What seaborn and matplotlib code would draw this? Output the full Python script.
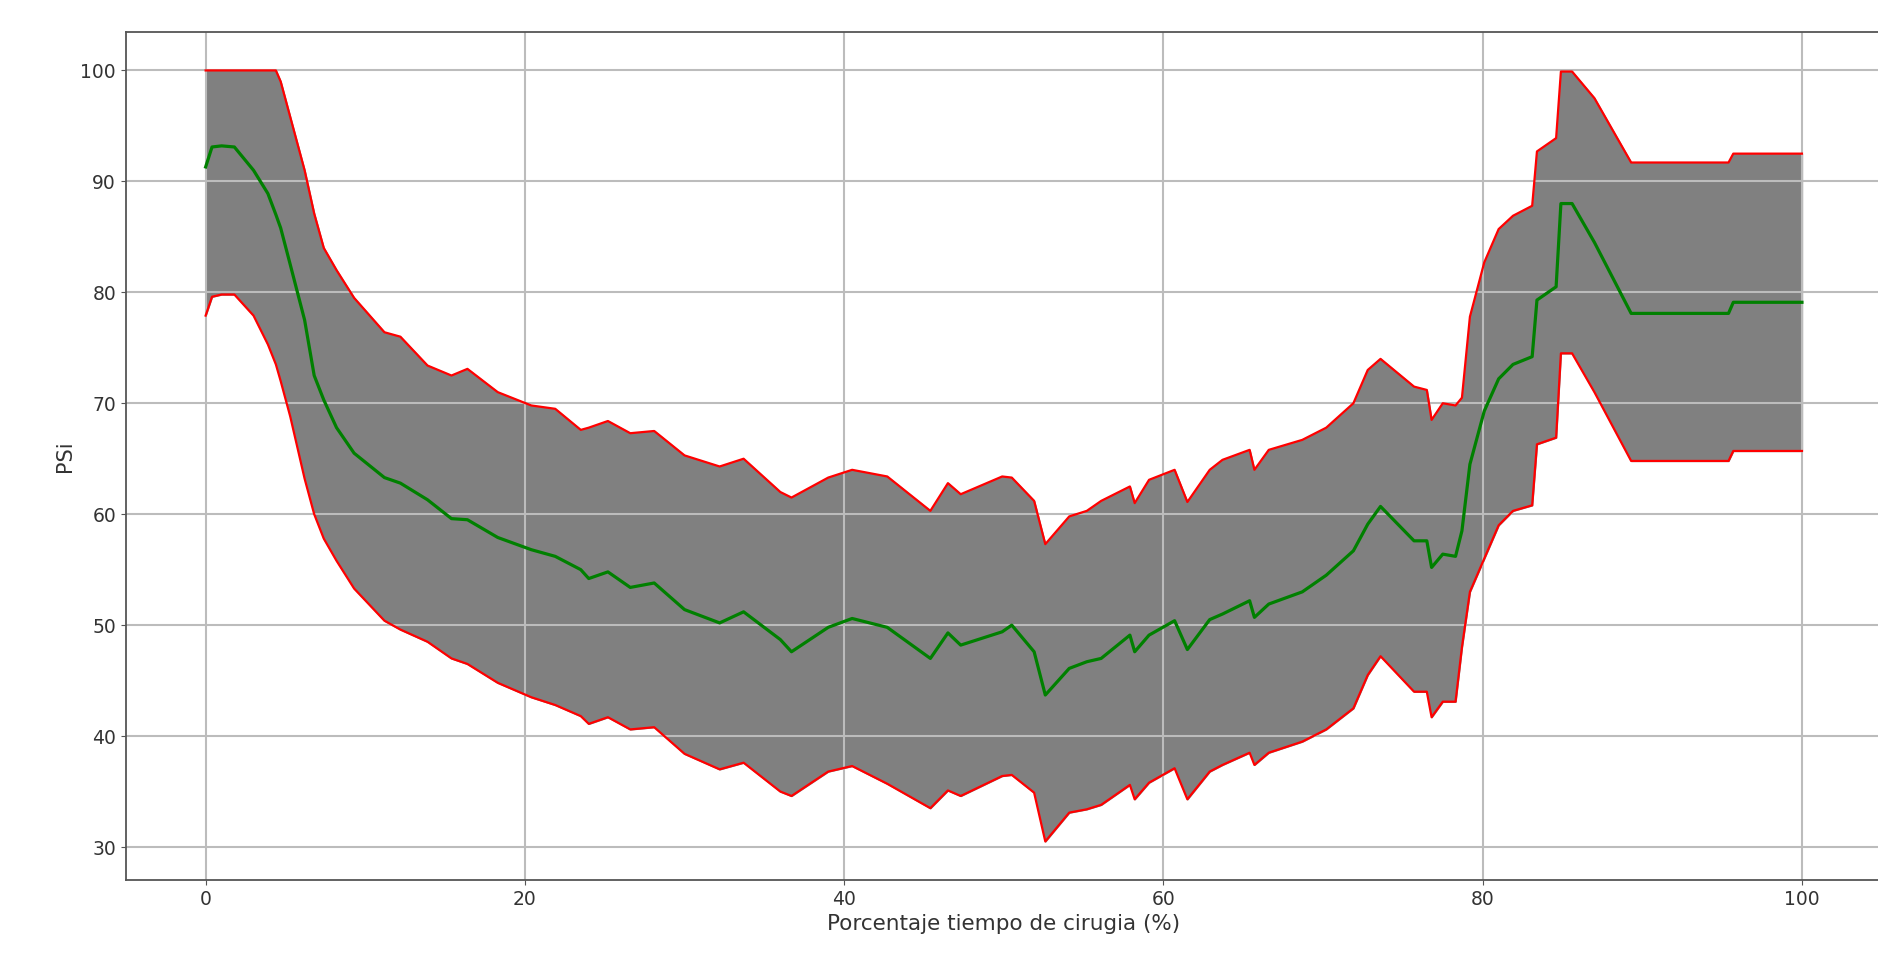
import pandas as pd
import matplotlib
matplotlib.use("Agg")
import matplotlib.pyplot as plt
import seaborn as sns

# percentage of surgery time
tiempo = [0, 0.4, 1.0, 1.8, 3.0, 3.9, 4.4, 4.7, 5.3, 6.2,
          6.8, 7.4, 8.2, 9.3, 11.2, 12.2, 13.9, 15.4, 16.4, 18.3,
          20.4, 21.9, 23.5, 24, 25.2, 26.6, 28.1, 30, 32.2, 33.7,
          36, 36.7, 39, 40.5, 42.7, 45.4, 46.5, 47.3, 49.9, 50.5,
          51.9, 52.6, 54.1, 55.2, 56.1, 57.9, 58.2, 59.1, 60.7, 61.5,
          62.9, 63.7, 65.4, 65.7, 66.6, 68.7, 70.2, 71.9, 72.8, 73.6,
          75.7, 76.5, 76.8, 77.5, 78.3, 78.7, 79.2, 80.1, 81.0, 81.9,
          83.1, 83.4, 84.6, 84.9, 85.6, 87.0, 89.3, 95.4, 95.7, 100]

psi_max = [100, 100, 100, 100, 100, 100, 100, 99, 95.8, 91,
           87.1, 84, 82, 79.5, 76.4, 76, 73.4, 72.5, 73.1, 71,
           69.8, 69.5, 67.6, 67.8, 68.4, 67.3, 67.5, 65.3, 64.3, 65,
           62, 61.5, 63.3, 64, 63.4, 60.3, 62.8, 61.8, 63.4, 63.3,
           61.2, 57.3, 59.8, 60.3, 61.2, 62.5, 61, 63.1, 64, 61.1,
           64, 64.9, 65.8, 64, 65.8, 66.7, 67.8, 70, 73, 74,
           71.5, 71.2, 68.5, 70, 69.8, 70.5, 77.8, 82.7, 85.7, 86.9,
           87.8, 92.7, 93.9, 99.9, 99.9, 97.5, 91.7, 91.7, 92.5, 92.5]

psi_media = [91.3, 93.1, 93.2, 93.1, 91, 88.9, 87, 85.8, 82.5, 77.5,
             72.5, 70.3, 67.8, 65.5, 63.3, 62.8, 61.3, 59.6, 59.5, 57.9,
             56.8, 56.2, 55, 54.2, 54.8, 53.4, 53.8, 51.4, 50.2, 51.2,
             48.7, 47.6, 49.8, 50.6, 49.8, 47, 49.3, 48.2, 49.4, 50,
             47.6, 43.7, 46.1, 46.7, 47, 49.1, 47.6, 49.1, 50.4, 47.8,
             50.5, 51, 52.2, 50.7, 51.9, 53, 54.5, 56.7, 59.1, 60.7,
             57.6, 57.6, 55.2, 56.4, 56.2, 58.5, 64.5, 69.3, 72.2, 73.5,
             74.2, 79.3, 80.5, 88, 88, 84.5, 78.1, 78.1, 79.1, 79.1]

psi_min = [77.9, 79.6, 79.8, 79.8, 77.9, 75.3, 73.5, 72, 68.8, 63.2,
           60, 57.8, 55.8, 53.3, 50.4, 49.6, 48.5, 47, 46.5, 44.8,
           43.5, 42.8, 41.8, 41.1, 41.7, 40.6, 40.8, 38.4, 37, 37.6,
           35, 34.6, 36.8, 37.3, 35.7, 33.5, 35.1, 34.6, 36.4, 36.5,
           34.9, 30.5, 33.1, 33.4, 33.8, 35.6, 34.3, 35.8, 37.1, 34.3,
           36.8, 37.4, 38.5, 37.4, 38.5, 39.5, 40.6, 42.5, 45.5, 47.2,
           44, 44, 41.7, 43.1, 43.1, 48, 53, 56, 59, 60.3,
           60.8, 66.3, 66.9, 74.5, 74.5, 71, 64.8, 64.8, 65.7, 65.7]

df = pd.DataFrame({'tiempo': tiempo, 'max': psi_max, 'min': psi_min, 'media': psi_media})

fig = plt.figure(figsize=(18.78, 9.66), dpi=100)
ax = fig.add_axes([0.067, 0.089, 0.935, 0.878])

# band between min and max with red borders, green mean line
ax.fill_between(df['tiempo'], df['min'], df['max'], color='gray')
sns.lineplot(data=df, x='tiempo', y='max', color='red', linewidth=1.6, ax=ax)
sns.lineplot(data=df, x='tiempo', y='min', color='red', linewidth=1.6, ax=ax)
sns.lineplot(data=df, x='tiempo', y='media', color='green', linewidth=2.3, ax=ax)

ax.grid(True, color='#bcbcbc', linewidth=1.5)
ax.set_xlabel('Porcentaje tiempo de cirugia (%)', fontsize=15.5, color='#333333')
ax.set_ylabel('PSi', fontsize=15, color='#333333')
ax.tick_params(labelsize=13.5, labelcolor='#333333', color='#555555')
for sp in ax.spines.values():
    sp.set_color('#555555')
    sp.set_linewidth(1.3)
ax.set_xticks([0, 20, 40, 60, 80, 100])
ax.set_yticks([30, 40, 50, 60, 70, 80, 90, 100])
ax.margins(x=0.05, y=0.05)

fig.savefig('out.png', dpi=100)
